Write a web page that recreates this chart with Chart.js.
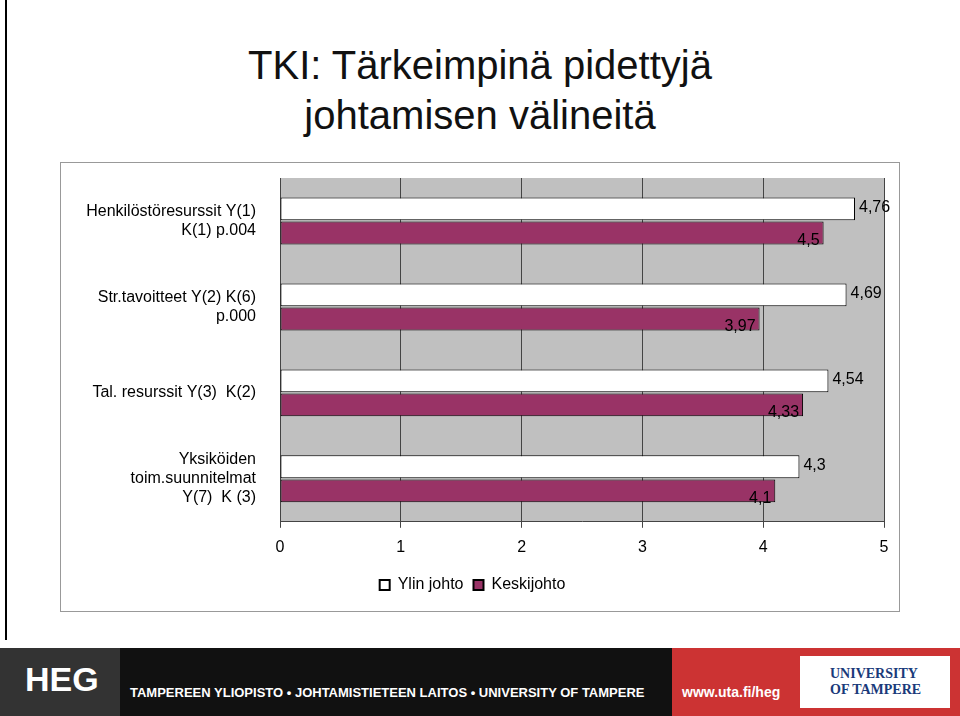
<!DOCTYPE html>
<html><head><meta charset="utf-8">
<script src="https://cdn.jsdelivr.net/npm/chart.js@4"></script>
<style>
body{margin:0;width:960px;height:716px;background:#fff;position:relative;overflow:hidden;font-family:"Liberation Sans",Arial,sans-serif}
#t{position:absolute;top:40px;left:0;width:960px;text-align:center;font-size:40px;line-height:50px;color:#111}
#box{position:absolute;left:60px;top:162px;width:840px;height:450px;border:1px solid #999;box-sizing:border-box;background:#fff}
#lb{position:absolute;left:5px;top:0;width:2px;height:640px;background:#000}
#ft{position:absolute;left:0;top:648px;width:960px;height:68px;background:#111}
#ft .a{position:absolute;left:0;top:0;width:120px;height:68px;background:#333;color:#fff;font:bold 34px "Liberation Sans";padding:12px 25px;box-sizing:border-box}
#ft .b{position:absolute;left:130px;top:37px;color:#fff;font:bold 13px "Liberation Sans"}
#ft .c{position:absolute;left:672px;top:0;width:288px;height:68px;background:#c33;}
#ft .d{position:absolute;left:800px;top:8px;width:150px;height:52px;background:#fff;color:#1a3a7a;font:bold 14px "Liberation Serif";padding:10px 0 0 30px;box-sizing:border-box}
#ft .e{position:absolute;left:682px;top:36px;color:#fff;font:bold 14px "Liberation Sans"}
</style></head><body>
<div id="lb"></div>
<div id="t">TKI: Tärkeimpinä pidettyjä<br>johtamisen välineitä</div>
<div id="box"><canvas id="c" width="838" height="448"></canvas></div>
<div id="ft"><div class="a">HEG</div><div class="b">TAMPEREEN YLIOPISTO • JOHTAMISTIETEEN LAITOS • UNIVERSITY OF TAMPERE</div><div class="c"></div><div class="e">www.uta.fi/heg</div><div class="d">UNIVERSITY<br>OF TAMPERE</div></div>
<script>
const categories=[["Henkilöstöresurssit Y(1)","K(1) p.004"],["Str.tavoitteet Y(2) K(6)","p.000"],["Tal. resurssit Y(3)  K(2)"],["Yksiköiden","toim.suunnitelmat","Y(7)  K (3)"]];
const ylin=[4.76,4.69,4.54,4.3];
const keski=[4.5,3.97,4.33,4.1];
const ylinLabels=["4,76","4,69","4,54","4,3"];
const keskiLabels=["4,5","3,97","4,33","4,1"];
const xTicks=[0,1,2,3,4,5];
const plotBg={id:'bg',beforeDraw(c){const a=c.chartArea,x=c.ctx;x.save();x.fillStyle='#c0c0c0';x.fillRect(a.left,a.top,a.right-a.left,a.bottom-a.top);x.restore();}};
const lbl={id:'lbl',afterDatasetsDraw(c){const x=c.ctx;x.save();x.font='16px "Liberation Sans"';x.fillStyle='#000';
 c.getDatasetMeta(0).data.forEach((b,i)=>{x.textAlign='left';x.fillText(ylinLabels[i],b.x+4,b.y-1);});
 c.getDatasetMeta(1).data.forEach((b,i)=>{x.textAlign='right';x.fillText(keskiLabels[i],b.x-4,b.y+8);});x.restore();}};
new Chart(document.getElementById('c'),{type:'bar',
data:{labels:categories,datasets:[
{label:'Ylin johto',data:ylin,backgroundColor:'#fff',borderColor:'#000',borderWidth:1,borderSkipped:false},
{label:'Keskijohto',data:keski,backgroundColor:'#993366',borderColor:'#000',borderWidth:1,borderSkipped:false}]},
options:{indexAxis:'y',responsive:false,animation:false,categoryPercentage:0.56,barPercentage:0.95,
layout:{padding:{top:15,right:15,left:0,bottom:8}},
plugins:{legend:{position:'bottom',labels:{color:'#000',font:{size:16,family:'Liberation Sans'},boxWidth:10,boxHeight:10,padding:10,generateLabels:(c)=>c.data.datasets.map((d,i)=>({text:d.label,fillStyle:d.backgroundColor,strokeStyle:'#000',lineWidth:2,datasetIndex:i}))}},tooltip:{enabled:false}},
scales:{x:{min:0,max:5,afterBuildTicks:s=>{s.ticks=xTicks.map(v=>({value:v}));},afterFit:s=>{s.paddingLeft=0;s.paddingRight=0;},ticks:{color:'#000',font:{size:16,family:'Liberation Sans'},padding:10},grid:{color:'#444',drawTicks:true,tickLength:6},border:{color:'#444'}},
y:{afterFit:s=>{s.width=219;s.paddingTop=0;s.paddingBottom=0;},ticks:{color:'#000',font:{size:16,family:'Liberation Sans'},padding:16},grid:{display:false},border:{color:'#444'}}}},
plugins:[plotBg,lbl]});
</script></body></html>
